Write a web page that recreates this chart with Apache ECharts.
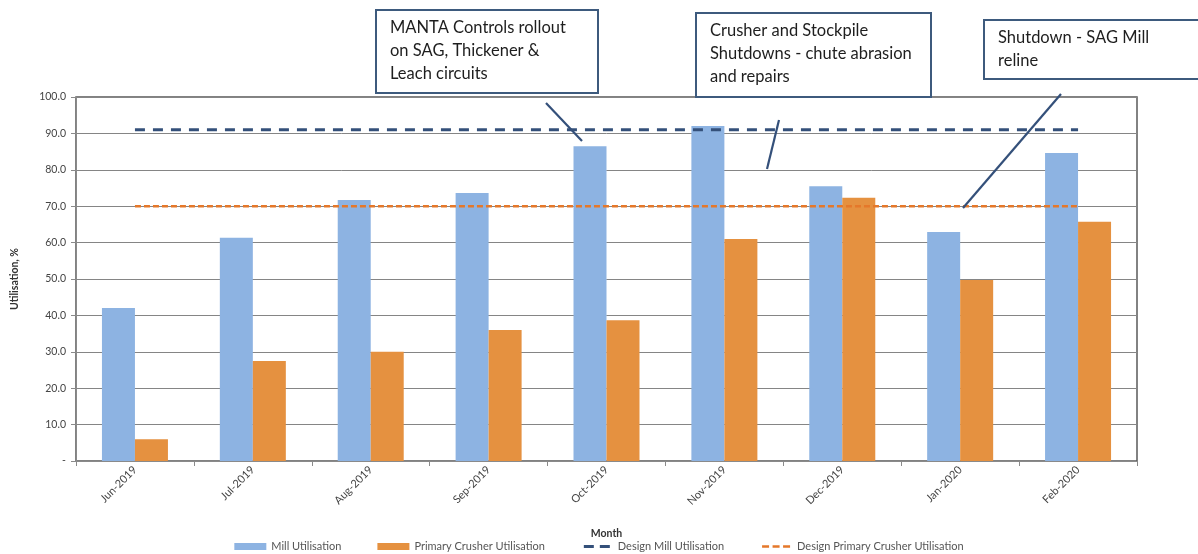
<!DOCTYPE html>
<html>
<head>
<meta charset="utf-8">
<script src="https://cdn.jsdelivr.net/npm/echarts@6/dist/echarts.min.js"></script>
<style>
  html, body { margin: 0; padding: 0; background: #fff; }
  #chart { width: 1198px; height: 554px; }
</style>
</head>
<body>
<div id="chart"></div>
<script>
// Monthly plant utilisation (%)
const months = ['Jun-2019', 'Jul-2019', 'Aug-2019', 'Sep-2019', 'Oct-2019', 'Nov-2019', 'Dec-2019', 'Jan-2020', 'Feb-2020'];
const millUtilisation = [42.0, 61.3, 71.7, 73.6, 86.5, 92.0, 75.5, 62.9, 84.6];
const crusherUtilisation = [6.0, 27.5, 30.0, 36.0, 38.7, 61.0, 72.3, 49.7, 65.7];
const designMill = [91, 91, 91, 91, 91, 91, 91, 91, 91];
const designCrusher = [70, 70, 70, 70, 70, 70, 70, 70, 70];
const yTicks = [0, 10, 20, 30, 40, 50, 60, 70, 80, 90, 100];

// Call-out notes drawn above the plot
const notes = [
  { lines: ['MANTA Controls rollout', 'on SAG, Thickener &', 'Leach circuits'], box: [376, 10, 222, 83], leader: [546, 103, 582, 141] },
  { lines: ['Crusher and Stockpile', 'Shutdowns - chute abrasion', 'and repairs'], box: [696, 13, 235, 84], leader: [779, 120, 767, 169] },
  { lines: ['Shutdown - SAG Mill', 'reline'], box: [984, 20, 230, 59], leader: [1061, 94, 963, 208] }
];

// Dashed legend keys; the two hairline corner squares pin the icon's bounds to the full 32x7 box
const BOUNDS = 'M0,0h0.01v0.01h-0.01z M32,7h-0.01v-0.01h0.01z ';
const millDashIcon = 'path://' + BOUNDS + 'M3,2h10v3h-10z M19,2h10v3h-10z';
const crusherDashIcon = 'path://' + BOUNDS + 'M2,2.3h7v2.4h-7z M12.5,2.3h7v2.4h-7z M23,2.3h7v2.4h-7z';

const FONT = 'Lato, "Open Sans", sans-serif';
const chart = echarts.init(document.getElementById('chart'), null, { renderer: 'canvas' });

const graphics = [];
notes.forEach(n => {
  const [x, y, w, h] = n.box;
  graphics.push({
    type: 'rect', shape: { x: x, y: y, width: w, height: h },
    style: { fill: '#fff', stroke: '#3d5a7d', lineWidth: 2 }, z: 100
  });
  graphics.push({
    type: 'text', x: x + 14, y: y + 6, z: 101,
    style: { text: n.lines.join('\n'), font: '16.5px ' + FONT, lineHeight: 23, fill: '#1e1e1e' }
  });
  const [x1, y1, x2, y2] = n.leader;
  graphics.push({
    type: 'line', shape: { x1: x1, y1: y1, x2: x2, y2: y2 },
    style: { stroke: '#34507a', lineWidth: 2.2 }, z: 100
  });
});

chart.setOption({
  animation: false,
  backgroundColor: '#fff',
  textStyle: { fontFamily: FONT },
  grid: {
    left: 76, right: 61, top: 97, bottom: 93,
    show: true, borderColor: '#5a5a5a', borderWidth: 1.5, backgroundColor: 'transparent'
  },
  legend: {
    bottom: -3, left: 'center',
    itemWidth: 32, itemHeight: 7, itemGap: 36,
    textStyle: { fontSize: 11, color: '#555', fontFamily: FONT },
    data: [
      { name: 'Mill Utilisation', icon: 'rect' },
      { name: 'Primary Crusher Utilisation', icon: 'rect' },
      { name: 'Design Mill Utilisation', icon: millDashIcon },
      { name: 'Design Primary Crusher Utilisation', icon: crusherDashIcon }
    ]
  },
  xAxis: {
    type: 'category',
    data: months,
    boundaryGap: true,
    name: 'Month', nameLocation: 'middle', nameGap: 67,
    nameTextStyle: { fontSize: 10.5, fontWeight: 'bold', color: '#333' },
    axisLine: { lineStyle: { color: '#8a8a8a', width: 1 } },
    axisTick: { show: true, length: 5, lineStyle: { color: '#8a8a8a' } },
    axisLabel: { rotate: 45, fontSize: 11, color: '#444', margin: 7 }
  },
  yAxis: {
    type: 'value',
    min: yTicks[0], max: yTicks[yTicks.length - 1], interval: 10,
    name: 'Utilisation, %', nameLocation: 'middle', nameGap: 56, nameRotate: 90,
    nameTextStyle: { fontSize: 10.5, fontWeight: 'bold', color: '#333' },
    axisLine: { show: true, lineStyle: { color: '#8a8a8a' } },
    axisTick: { show: true, length: 5, inside: false, lineStyle: { color: '#8a8a8a' } },
    axisLabel: {
      fontSize: 10.5, color: '#444', margin: 10,
      formatter: v => (v === 0 ? '-' : v.toFixed(1))
    },
    splitLine: { show: true, lineStyle: { color: '#858585', width: 1 } }
  },
  series: [
    {
      name: 'Mill Utilisation', type: 'bar', data: millUtilisation,
      barWidth: 33, barGap: '0%',
      itemStyle: { color: '#8db3e2' }
    },
    {
      name: 'Primary Crusher Utilisation', type: 'bar', data: crusherUtilisation,
      barWidth: 33, barGap: '0%',
      itemStyle: { color: '#e59140' }
    },
    {
      name: 'Design Mill Utilisation', type: 'line', data: designMill,
      symbol: 'none', z: 5,
      itemStyle: { color: '#34507a' },
      lineStyle: { color: '#34507a', width: 3, type: [10, 8] }
    },
    {
      name: 'Design Primary Crusher Utilisation', type: 'line', data: designCrusher,
      symbol: 'none', z: 5,
      itemStyle: { color: '#e5782a' },
      lineStyle: { color: '#e5782a', width: 2.5, type: [6, 3] }
    }
  ],
  graphic: graphics
});
</script>
</body>
</html>
